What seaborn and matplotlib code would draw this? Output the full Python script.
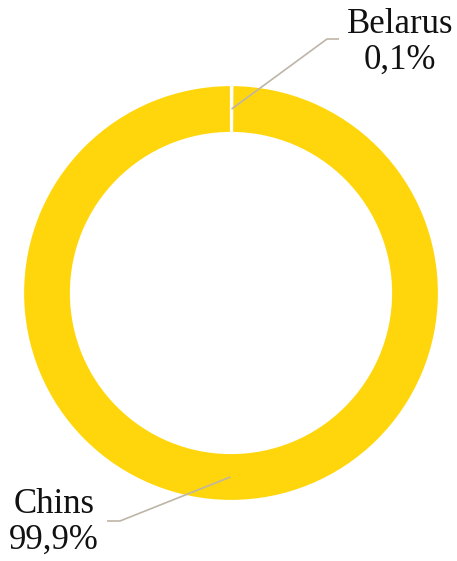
import numpy as np
import matplotlib
matplotlib.use("Agg")
import matplotlib.pyplot as plt
import seaborn as sns

# shares of the total, in percent
countries = ["Belarus", "Chins"]
shares = [0.1, 99.9]
share_labels = ["0,1%", "99,9%"]

sns.set_style("white")
plt.rcParams["font.family"] = ["Liberation Serif", "DejaVu Serif"]

W, H = 457, 561
fig = plt.figure(figsize=(W / 100, H / 100), dpi=100)
ax = fig.add_axes([0, 0, 1, 1])
ax.set_xlim(0, W)
ax.set_ylim(0, H)
ax.axis("off")

center = (231, H - 293)
radius = 208
ring = 48

yellow = "#FFD60B"
wedges, _ = ax.pie(
    shares,
    colors=[yellow, yellow],
    startangle=90,
    counterclock=False,
    center=center,
    radius=radius,
    wedgeprops=dict(width=ring, edgecolor="white", linewidth=1.6),
    frame=True,
)
ax.set_xlim(0, W)
ax.set_ylim(0, H)
ax.set_aspect("equal")
ax.axis("off")

# label layout: elbow of leader line, end of leader line, text center
layout = {
    "Belarus": dict(elbow=(327, H - 39), end=(339, H - 39), text=(400, H - 42)),
    "Chins": dict(elbow=(120, H - 521), end=(107, H - 521), text=(54, H - 522)),
}

line_color = "#BDB5A6"
r_mid = radius - ring / 2
for w, name, lab in zip(wedges, countries, share_labels):
    theta = np.deg2rad((w.theta1 + w.theta2) / 2)
    px = center[0] + r_mid * np.cos(theta)
    py = center[1] + r_mid * np.sin(theta)
    lay = layout[name]
    xs = [px, lay["elbow"][0], lay["end"][0]]
    ys = [py, lay["elbow"][1], lay["end"][1]]
    ax.plot(xs, ys, color=line_color, linewidth=1.2, solid_capstyle="butt")
    ax.text(lay["text"][0], lay["text"][1], f"{name}\n{lab}",
            ha="center", va="center", fontsize=25, linespacing=1.1,
            color="#111111")

fig.savefig("out.png", dpi=100, facecolor="white")
